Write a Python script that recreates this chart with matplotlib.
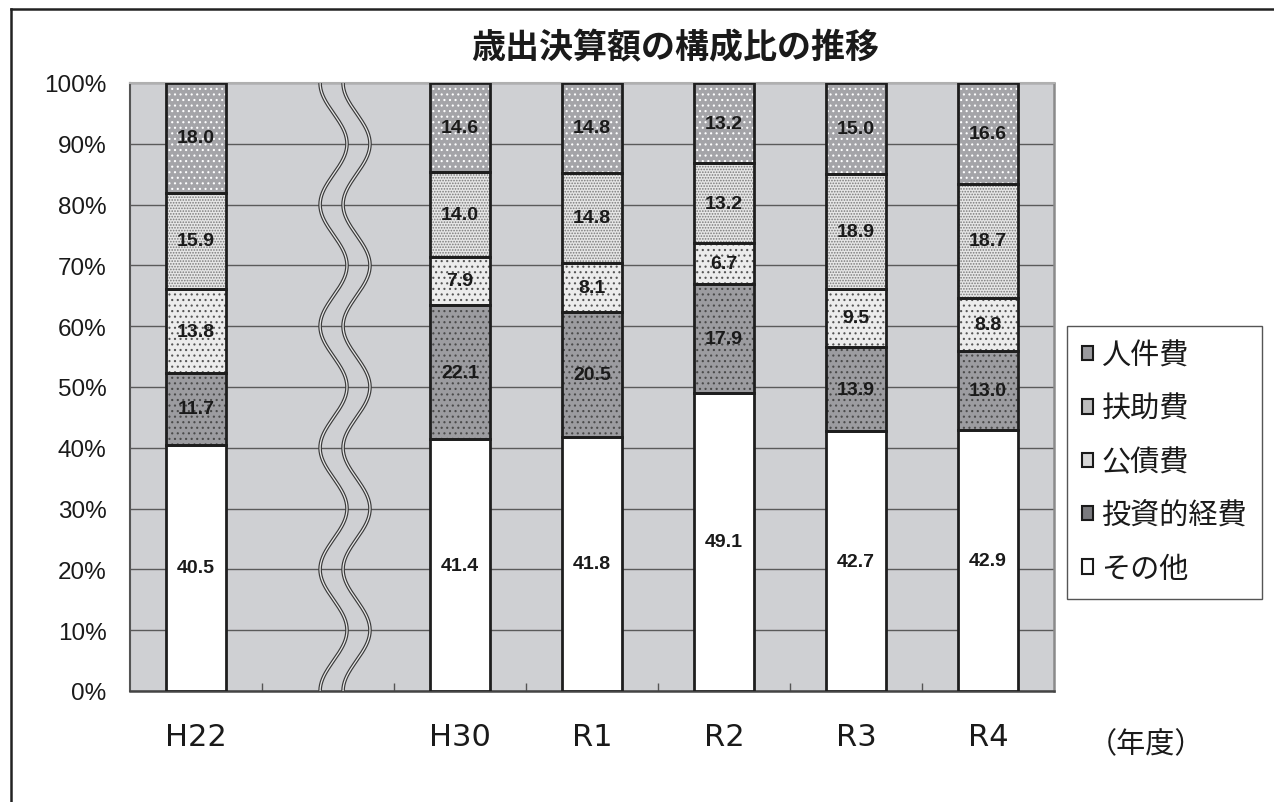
import numpy as np
import matplotlib
matplotlib.use("Agg")
import matplotlib.pyplot as plt
from matplotlib.patches import Patch
from matplotlib.lines import Line2D

plt.rcParams['font.family'] = ['Noto Sans CJK JP', 'DejaVu Sans']
plt.rcParams['hatch.linewidth'] = 0.8

# ---------------- data ----------------
years = ['H22', 'H30', 'R1', 'R2', 'R3', 'R4']
slots = [0, 2, 3, 4, 5, 6]          # slot 1 is the omitted period (wavy break)
series_names = ['その他', '投資的経費', '公債費', '扶助費', '人件費']   # bottom -> top
sonota   = [40.5, 41.4, 41.8, 49.1, 42.7, 42.9]
toushi   = [11.7, 22.1, 20.5, 17.9, 13.9, 13.0]
kousai   = [13.8, 7.9, 8.1, 6.7, 9.5, 8.8]
fujo     = [15.9, 14.0, 14.8, 13.2, 18.9, 18.7]
jinken   = [18.0, 14.6, 14.8, 13.2, 15.0, 16.6]
yticks = [0, 10, 20, 30, 40, 50, 60, 70, 80, 90, 100]
ytick_labels = ['0%', '10%', '20%', '30%', '40%', '50%', '60%', '70%', '80%', '90%', '100%']
title = '歳出決算額の構成比の推移'
unit_label = '（年度）'

# ---------------- styles ----------------
face = ['#ffffff', '#9c9ca0', '#ececec', '#e6e6e6', '#a4a4a8']
hatch = [None, '...', '...', '......', '...']
hatch_col = ['#ffffff', '#4a4a4a', '#555555', '#7a7a7a', '#ffffff']
legend_face = ['#ffffff', '#7a7a7e', '#d8d8d8', '#bdbdbd', '#9a9a9e']

W, H = 1274, 803
fig = plt.figure(figsize=(W / 100, H / 100), dpi=100)
ax = fig.add_axes([130 / W, (H - 692) / H, (1054 - 130) / W, (692 - 84) / H])
ax.set_facecolor('#cfd0d3')

data = np.array([sonota, toushi, kousai, fujo, jinken], dtype=float)
totals = data.sum(axis=0)
pct = data / totals * 100

x = np.array(slots, dtype=float)
bw = 0.46
bottom = np.zeros(len(years))
for i in range(len(series_names)):
    ax.bar(x, pct[i], bw, bottom=bottom, color=face[i], edgecolor=hatch_col[i],
           linewidth=0, hatch=hatch[i], zorder=3)
    ax.bar(x, pct[i], bw, bottom=bottom, fill=False, edgecolor='#1e1e1e',
           linewidth=2.0, zorder=4)
    for xi, b, h, v in zip(x, bottom, pct[i], data[i]):
        ax.text(xi, b + h / 2, f'{v:.1f}', ha='center', va='center',
                fontsize=14, fontweight='bold', family=['Liberation Sans'],
                color='#1a1a1a', zorder=6)
    bottom += pct[i]

# wavy break lines
yy = np.linspace(0, 100, 600)
amp = 0.102
for c in (1.042, 1.216):
    xx = c - amp * np.cos(2 * np.pi * yy / 20.0)
    ax.plot(xx, yy, color='#3a3a3a', lw=2.6, zorder=5, solid_capstyle='butt')
    ax.plot(xx, yy, color='#e8e8e8', lw=0.9, zorder=5.1, solid_capstyle='butt')

ax.set_xlim(-0.5, 6.5)
ax.set_ylim(0, 100)
ax.set_yticks(yticks)
ax.set_yticklabels(ytick_labels, family=['Liberation Sans'], fontsize=17.5, color='#1a1a1a')
ax.tick_params(axis='y', length=0, pad=17)
ax.set_xticks(x)
ax.set_xticklabels(years, family=['DejaVu Sans'], fontsize=22, color='#1a1a1a')
ax.tick_params(axis='x', which='major', length=0, pad=22)
ax.set_xticks(np.arange(0.5, 6.0, 1.0), minor=True)
ax.tick_params(axis='x', which='minor', direction='in', length=6, width=1, color='#555555')
ax.yaxis.grid(True, color='#5a5a5a', lw=1.0, zorder=1)
ax.set_axisbelow(True)
for s, col, lw in (('left', '#555555', 1.5), ('bottom', '#444444', 1.8),
                   ('right', '#8a8a8a', 1.8), ('top', '#b0b0b0', 1.5)):
    ax.spines[s].set_color(col)
    ax.spines[s].set_linewidth(lw)

fig.text(675 / W, (H - 48) / H, title, ha='center', va='center', fontsize=24.5,
         fontweight='bold', color='#1a1a1a')
fig.text(1146 / W, (H - 745) / H, unit_label, ha='center', va='center', fontsize=21,
         color='#1a1a1a')

# legend (top to bottom as in reference)
order = [4, 3, 2, 1, 0]
handles = [Patch(facecolor=legend_face[i], edgecolor='#1a1a1a', linewidth=1.5) for i in order]
labels = [series_names[i] for i in order]
leg = ax.legend(handles, labels, loc='upper left',
                bbox_to_anchor=(1067 / W, (H - 327) / H), bbox_transform=fig.transFigure,
                fontsize=21, frameon=True, fancybox=False, framealpha=1,
                edgecolor='#555555', handlelength=0.38, handleheight=0.38,
                handletextpad=0.3, labelspacing=0.8, borderpad=0.5, borderaxespad=0)
leg.get_frame().set_linewidth(1.0)
for t in leg.get_texts():
    t.set_color('#1a1a1a')

# outer frame (left and top visible)
fig.add_artist(Line2D([11 / W, 11 / W], [0, (H - 10) / H], transform=fig.transFigure,
                      color='#222222', lw=1.8))
fig.add_artist(Line2D([11 / W, 1.0], [(H - 10) / H, (H - 10) / H], transform=fig.transFigure,
                      color='#222222', lw=1.8))

fig.savefig('out.png', dpi=100)
